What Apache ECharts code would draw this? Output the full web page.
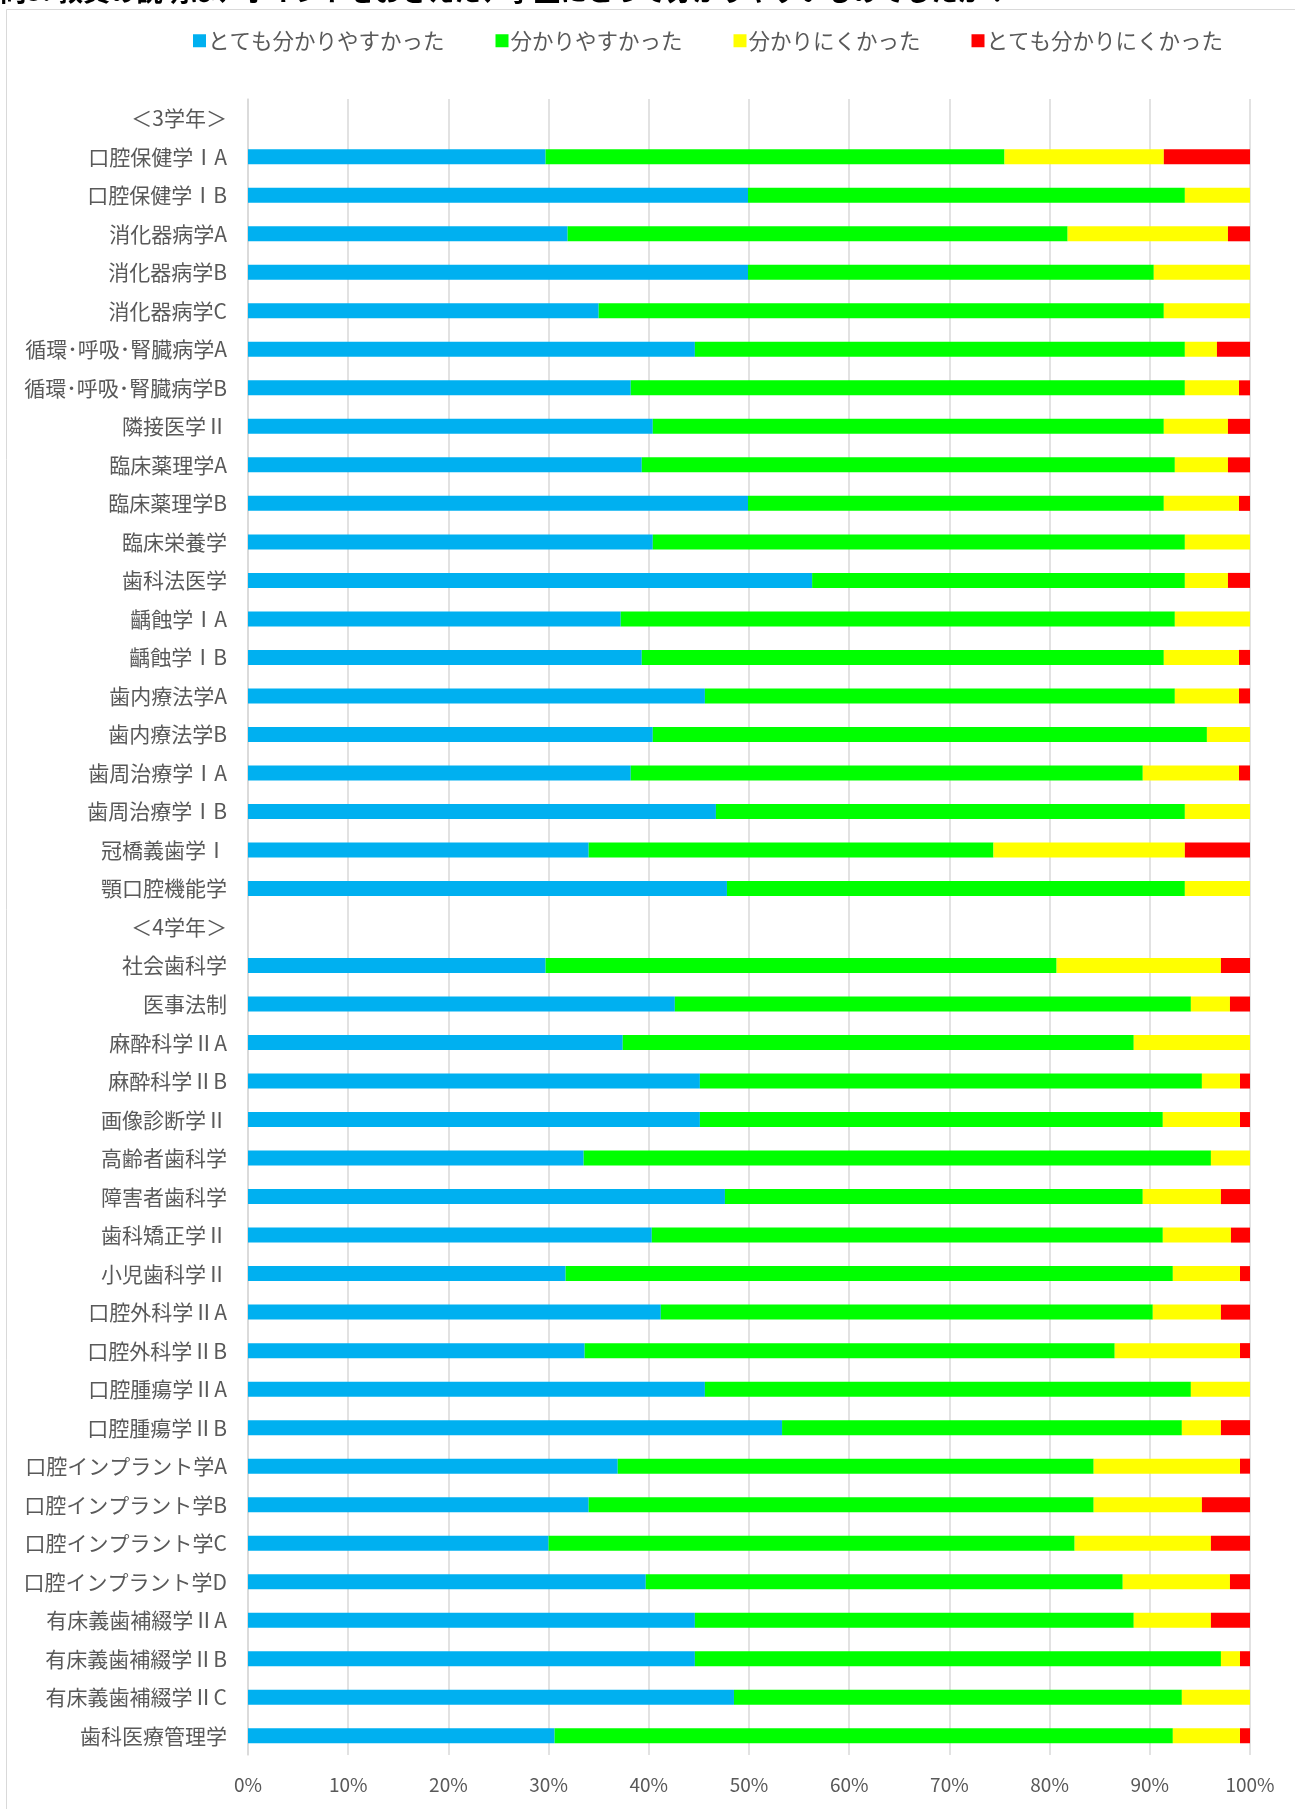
<!DOCTYPE html>
<html lang="ja">
<head>
<meta charset="utf-8">
<title>授業評価：教員の説明の分かりやすさ</title>
<script src="https://cdn.jsdelivr.net/npm/echarts@6/dist/echarts.min.js"></script>
<style>
  html, body { margin: 0; padding: 0; background: #ffffff; }
  #chart { width: 1295px; height: 1809px; }
</style>
</head>
<body>
<div id="chart"></div>
<script>
// Subjects, grouped by school year (header rows carry no data)
const categories = [
  '＜3学年＞',
  '口腔保健学ⅠA', '口腔保健学ⅠB', '消化器病学A', '消化器病学B', '消化器病学C',
  '循環･呼吸･腎臓病学A', '循環･呼吸･腎臓病学B', '隣接医学Ⅱ', '臨床薬理学A', '臨床薬理学B',
  '臨床栄養学', '歯科法医学', '齲蝕学ⅠA', '齲蝕学ⅠB', '歯内療法学A',
  '歯内療法学B', '歯周治療学ⅠA', '歯周治療学ⅠB', '冠橋義歯学Ⅰ', '顎口腔機能学',
  '＜4学年＞',
  '社会歯科学', '医事法制', '麻酔科学ⅡA', '麻酔科学ⅡB', '画像診断学Ⅱ',
  '高齢者歯科学', '障害者歯科学', '歯科矯正学Ⅱ', '小児歯科学Ⅱ', '口腔外科学ⅡA',
  '口腔外科学ⅡB', '口腔腫瘍学ⅡA', '口腔腫瘍学ⅡB', '口腔インプラント学A', '口腔インプラント学B',
  '口腔インプラント学C', '口腔インプラント学D', '有床義歯補綴学ⅡA', '有床義歯補綴学ⅡB', '有床義歯補綴学ⅡC',
  '歯科医療管理学'
];

const seriesNames = ['とても分かりやすかった', '分かりやすかった', '分かりにくかった', 'とても分かりにくかった'];

// Share of answers (%) per subject
const veryEasy = [
  '-',
  29.7, 49.9, 31.9, 49.9, 35.0, 44.6, 38.2, 40.4, 39.3, 49.9,
  40.4, 56.3, 37.2, 39.3, 45.6, 40.4, 38.2, 46.7, 34.0, 47.8,
  '-',
  29.7, 42.6, 37.4, 45.1, 45.1, 33.5, 47.6, 40.3, 31.7, 41.2,
  33.6, 45.6, 53.3, 36.9, 34.0, 30.0, 39.7, 44.6, 44.6, 48.5,
  30.6
];
const easy = [
  '-',
  45.8, 43.6, 49.9, 40.5, 56.4, 48.9, 55.3, 51.0, 53.2, 41.5,
  53.1, 37.2, 55.3, 52.1, 46.9, 55.3, 51.1, 46.8, 40.4, 45.7,
  '-',
  51.0, 51.5, 51.0, 50.1, 46.2, 62.6, 41.7, 51.0, 60.6, 49.1,
  52.9, 48.5, 39.9, 47.5, 50.4, 52.5, 47.6, 43.8, 52.5, 44.7,
  61.7
];
const hard = [
  '-',
  15.9, 6.5, 16.0, 9.6, 8.6, 3.2, 5.4, 6.4, 5.3, 7.5,
  6.5, 4.3, 7.5, 7.5, 6.4, 4.3, 9.6, 6.5, 19.1, 6.5,
  '-',
  16.4, 3.9, 11.6, 3.8, 7.7, 3.9, 7.8, 6.8, 6.7, 6.8,
  12.5, 5.9, 3.9, 14.6, 10.8, 13.6, 10.7, 7.7, 1.9, 6.8,
  6.7
];
const veryHard = [
  '-',
  8.6, 0, 2.2, 0, 0, 3.3, 1.1, 2.2, 2.2, 1.1,
  0, 2.2, 0, 1.1, 1.1, 0, 1.1, 0, 6.5, 0,
  '-',
  2.9, 2.0, 0, 1.0, 1.0, 0, 2.9, 1.9, 1.0, 2.9,
  1.0, 0, 2.9, 1.0, 4.8, 3.9, 2.0, 3.9, 1.0, 0,
  1.0
];

const xTicks = { min: 0, max: 100, interval: 10 };

const colors = ['#00B0F0', '#00FF00', '#FFFF00', '#FF0000'];
const valueSets = [veryEasy, easy, hard, veryHard];
const FONT = '"Noto Sans CJK JP", "Noto Sans", sans-serif';
const TEXT_GRAY = '#595959';

const chart = echarts.init(document.getElementById('chart'), null, { renderer: 'canvas' });

chart.setOption({
  backgroundColor: '#ffffff',
  animation: false,
  textStyle: { fontFamily: FONT },
  graphic: [
    {
      type: 'rect',
      z: -10,
      silent: true,
      shape: { x: 6.5, y: 9.5, width: 1300, height: 1810 },
      style: { fill: 'none', stroke: '#d9d9d9', lineWidth: 1 }
    },
    {
      type: 'text',
      silent: true,
      x: 0,
      y: 4,
      style: {
        text: '問3. 教員の説明は、ポイントをおさえた、学生にとって分かりやすいものでしたか？',
        font: 'bold 26.5px ' + FONT,
        fill: '#000000',
        textAlign: 'left',
        textVerticalAlign: 'bottom'
      }
    }
  ],
  legend: {
    top: 25,
    left: 188,
    itemWidth: 13,
    itemHeight: 13,
    itemGap: 51,
    icon: 'rect',
    textStyle: { fontSize: 21.5, color: TEXT_GRAY, fontFamily: FONT, padding: [0, 0, 0, -3] },
    data: seriesNames
  },
  grid: { left: 248, right: 45, top: 99, bottom: 54, containLabel: false },
  xAxis: {
    type: 'value',
    min: xTicks.min,
    max: xTicks.max,
    interval: xTicks.interval,
    axisLine: { show: false },
    axisTick: { show: false },
    axisLabel: { formatter: '{value}%', fontSize: 19, color: TEXT_GRAY, margin: 20, fontFamily: FONT },
    splitLine: { show: true, lineStyle: { color: '#d9d9d9', width: 1.5 } }
  },
  yAxis: {
    type: 'category',
    inverse: true,
    data: categories,
    axisLine: { show: true, lineStyle: { color: '#d9d9d9', width: 1.5 } },
    axisTick: { show: false },
    axisLabel: { fontSize: 21, color: TEXT_GRAY, margin: 21, fontFamily: FONT, interval: 0 },
    splitLine: { show: false }
  },
  series: seriesNames.map((name, i) => ({
    name: name,
    type: 'bar',
    stack: 'total',
    barWidth: 15,
    itemStyle: { color: colors[i] },
    emphasis: { disabled: true },
    data: valueSets[i]
  }))
});
</script>
</body>
</html>
